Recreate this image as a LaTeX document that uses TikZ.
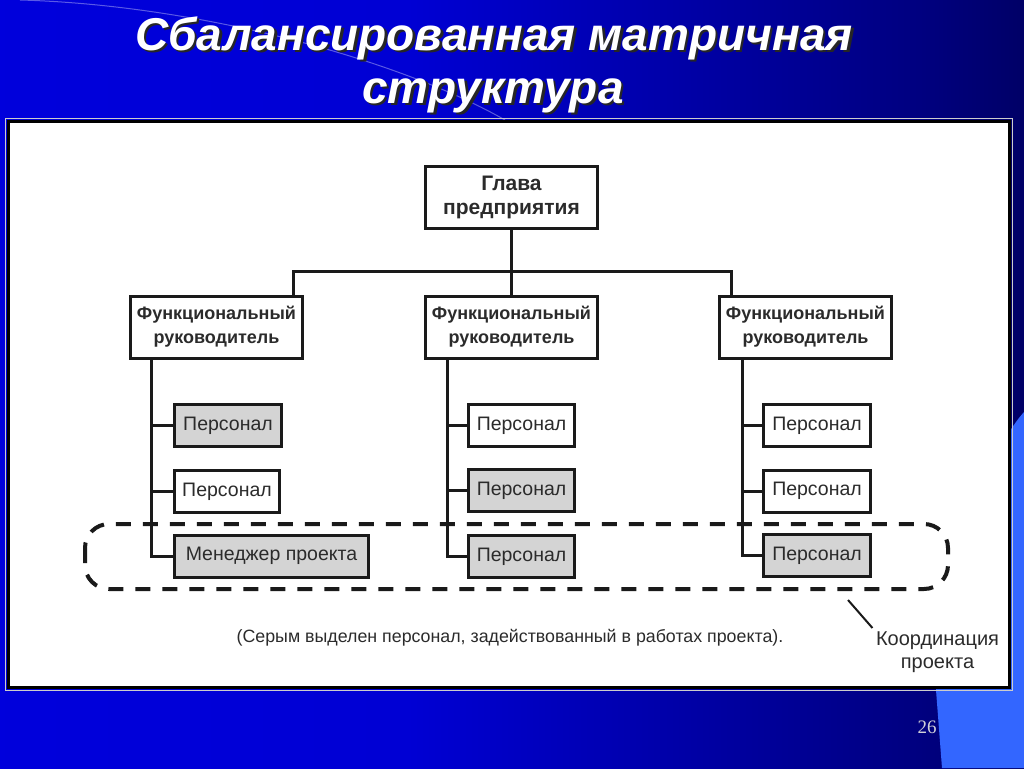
\documentclass[tikz,border=0pt]{standalone}
\usepackage{fontspec}
\setmainfont{Liberation Sans}
\newfontfamily\numfont{Liberation Serif}
\usetikzlibrary{calc}
\definecolor{txt}{HTML}{2B2B2B}
\definecolor{boxgrey}{HTML}{D4D4D4}
\definecolor{lineblk}{HTML}{1A1A1A}
\definecolor{lightblue}{HTML}{3366FF}
\definecolor{numgrey}{HTML}{D0D0D8}
\pgfdeclarehorizontalshading{slidebg}{100bp}{rgb(0bp)=(0,0,0.9); rgb(45bp)=(0,0,0.83); rgb(70bp)=(0,0,0.5); rgb(88bp)=(0,0,0.15); rgb(100bp)=(0,0,0.03)}
\begin{document}
\begin{tikzpicture}[x=1pt,y=-1pt,
  box/.style={draw=lineblk, line width=3pt, text=txt, inner sep=0pt, align=center},
  headbox/.style={box, fill=white, font=\bfseries\fontsize{18}{24}\selectfont, minimum width=172pt, minimum height=62pt},
  staff/.style={box, fill=white, font=\fontsize{19.5}{22}\selectfont, minimum height=42pt},
  greyfill/.style={fill=boxgrey},
  conn/.style={draw=lineblk, line width=3pt},
  titletext/.style={font=\bfseries\itshape\fontsize{46}{53}\selectfont, anchor=base},
  note/.style={text=txt, font=\fontsize{17.8}{22}\selectfont},
]
\useasboundingbox (0,0) rectangle (1024,768);
% background
\shade[shading=slidebg] (0,0) rectangle (1024,768);
\fill[lightblue] (1024,412) .. controls (985,455) and (934,600) .. (936,690) -- (942,768) -- (1024,768) -- cycle;
\draw[white, opacity=0.35, line width=1pt] (20,0) .. controls (200,5) and (400,60) .. (505,120);
% title
\node[titletext, text=black!85] at (496.5,52.5) {Сбалансированная матричная};
\node[titletext, text=white] (t1) at (494,50) {Сбалансированная матричная};
\node[titletext, text=black!85] at (495.5,105.5) {структура};
\node[titletext, text=white] (t2) at (493,103) {структура};
% panel
\draw[gray!40, line width=1pt] (5,118) rectangle (1012,690);
\draw[black, fill=white, line width=3pt] (8,121) rectangle (1009,687);
% head and functional managers
\node[headbox, font=\bfseries\fontsize{21}{24}\selectfont] (head) at (511.5,197) {Глава\\предприятия};
\node[headbox] (f1) at (216.5,327) {Функциональный\\руководитель};
\node[headbox] (f2) at (511.5,327) {Функциональный\\руководитель};
\node[headbox] (f3) at (805.5,327) {Функциональный\\руководитель};
% staff
\node[staff, greyfill, minimum width=107pt] (s11) at (228,425.5) {Персонал};
\node[staff, minimum width=105pt] (s12) at (227,491.5) {Персонал};
\node[staff, greyfill, minimum width=194pt] (s13) at (271.5,556) {Менеджер проекта};
\node[staff, minimum width=106pt] (s21) at (521.5,425.5) {Персонал};
\node[staff, greyfill, minimum width=106pt] (s22) at (521.5,490.5) {Персонал};
\node[staff, greyfill, minimum width=106pt] (s23) at (521.5,556.5) {Персонал};
\node[staff, minimum width=107pt] (s31) at (817,425.5) {Персонал};
\node[staff, minimum width=107pt] (s32) at (817,491) {Персонал};
\node[staff, greyfill, minimum width=107pt] (s33) at (817,555.5) {Персонал};
% connectors top
\coordinate (c1) at (293,271);
\coordinate (c3) at (731,271);
\draw[conn] (head.south) -- (f2.north);
\draw[conn] (c1 |- f1.north) -- (c1) -- (c3) -- (c3 |- f3.north);
% trunks
\coordinate (k1) at (151,0);
\coordinate (k2) at (447,0);
\coordinate (k3) at (742,0);
\draw[conn] (f1.south -| k1) |- (s13.west);
\draw[conn] (s11.west) -- (s11.west -| k1);
\draw[conn] (s12.west) -- (s12.west -| k1);
\draw[conn] (f2.south -| k2) |- (s23.west);
\draw[conn] (s21.west) -- (s21.west -| k2);
\draw[conn] (s22.west) -- (s22.west -| k2);
\draw[conn] (f3.south -| k3) |- (s33.west);
\draw[conn] (s31.west) -- (s31.west -| k3);
\draw[conn] (s32.west) -- (s32.west -| k3);
% project coordination
\draw[lineblk, line width=4pt, dash pattern=on 15pt off 12pt, rounded corners=24pt] (85,524) rectangle (948,589);
\coordinate (dp) at (848,600);
\node[note, font=\fontsize{20}{23}\selectfont, align=center, anchor=north] (coord) at (937.5,628) {Координация\\проекта};
\draw[lineblk, line width=2pt] (dp) -- (coord.north west);
\node[note, anchor=base] (caption) at (510,642) {(Серым выделен персонал, задействованный в работах проекта).};
% page number
\node[font=\numfont\fontsize{19}{20}\selectfont, text=numgrey, anchor=base] (num) at (927,733) {26};
\end{tikzpicture}
\end{document}
